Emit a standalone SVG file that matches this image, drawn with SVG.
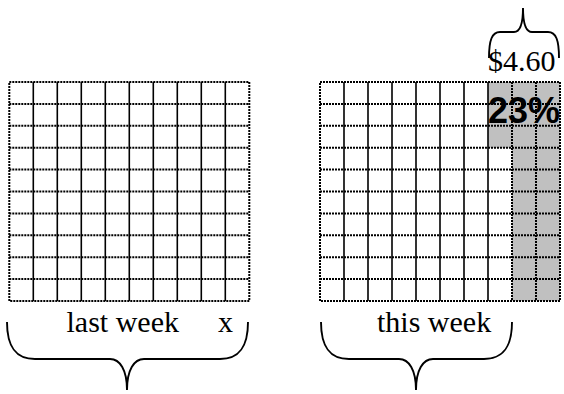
<svg xmlns="http://www.w3.org/2000/svg" width="564" height="394" viewBox="0 0 564 394">
<style>
.dot{fill:none;stroke:#000;stroke-width:2;stroke-dasharray:2 1}
.sol{fill:none;stroke:#000;stroke-width:1.6}
.brace{fill:none;stroke:#000;stroke-width:1.9}
.lbl{font-family:"Liberation Serif","Times New Roman",serif;font-size:30px;fill:#000}
.pct{font-family:"Liberation Sans",Arial,sans-serif;font-size:36px;font-weight:bold;fill:#000}
</style>
<defs>
<g id="hlines">
<path class="dot" d="M0,21.9H240M0,43.8H240M0,65.7H240M0,87.6H240M0,109.5H240M0,131.4H240M0,153.3H240M0,175.2H240M0,197.1H240"/>
</g>
</defs>
<g id="last-week-grid" transform="translate(9.3,82)">
<path class="sol" d="M24,0V219M48,0V219M72,0V219M96,0V219M120,0V219M144,0V219M168,0V219M192,0V219M216,0V219"/>
<use href="#hlines"/>
<rect class="dot" x="0" y="0" width="240" height="219"/>
</g>
<g id="this-week-grid" transform="translate(320,82)">
<rect x="168" y="0" width="72" height="65.7" fill="#c0c0c0"/>
<rect x="192" y="65.7" width="48" height="153.3" fill="#c0c0c0"/>
<path class="sol" d="M24,0V219M48,0V219M72,0V219M96,0V219M120,0V219M144,0V219M168,0V219"/>
<path class="dot" d="M192,0V219M216,0V219"/>
<use href="#hlines"/>
<rect class="dot" x="0" y="0" width="240" height="219"/>
</g>
<g id="braces">
<path class="brace" d="M7,322 C7,346 15,359 35,359 L110,359 C120,359 127,370 127,390 C127,370 134,359 144,359 L220,359 C240,359 248,346 248,322"/>
<path class="brace" d="M321,322 C321,346 329,359 349,359 L399,359 C409,359 416,370 416,390 C416,370 423,359 433,359 L484,359 C504,359 512,346 512,322"/>
<path class="brace" d="M489,58 C489,40 492,32 500,32 L514,32 C519,32 523,26 523,8 C523,26 527,32 532,32 L548,32 C556,32 559,40 559,58"/>
</g>
<g id="labels">
<text class="lbl" x="66.5" y="332">last week</text>
<text class="lbl" x="218" y="332">x</text>
<text class="lbl" x="377" y="332" font-size="31">this week</text>
<text class="lbl" x="488" y="71" font-size="32">$4.60</text>
<text class="pct" x="488" y="123">23%</text>
</g>
</svg>
